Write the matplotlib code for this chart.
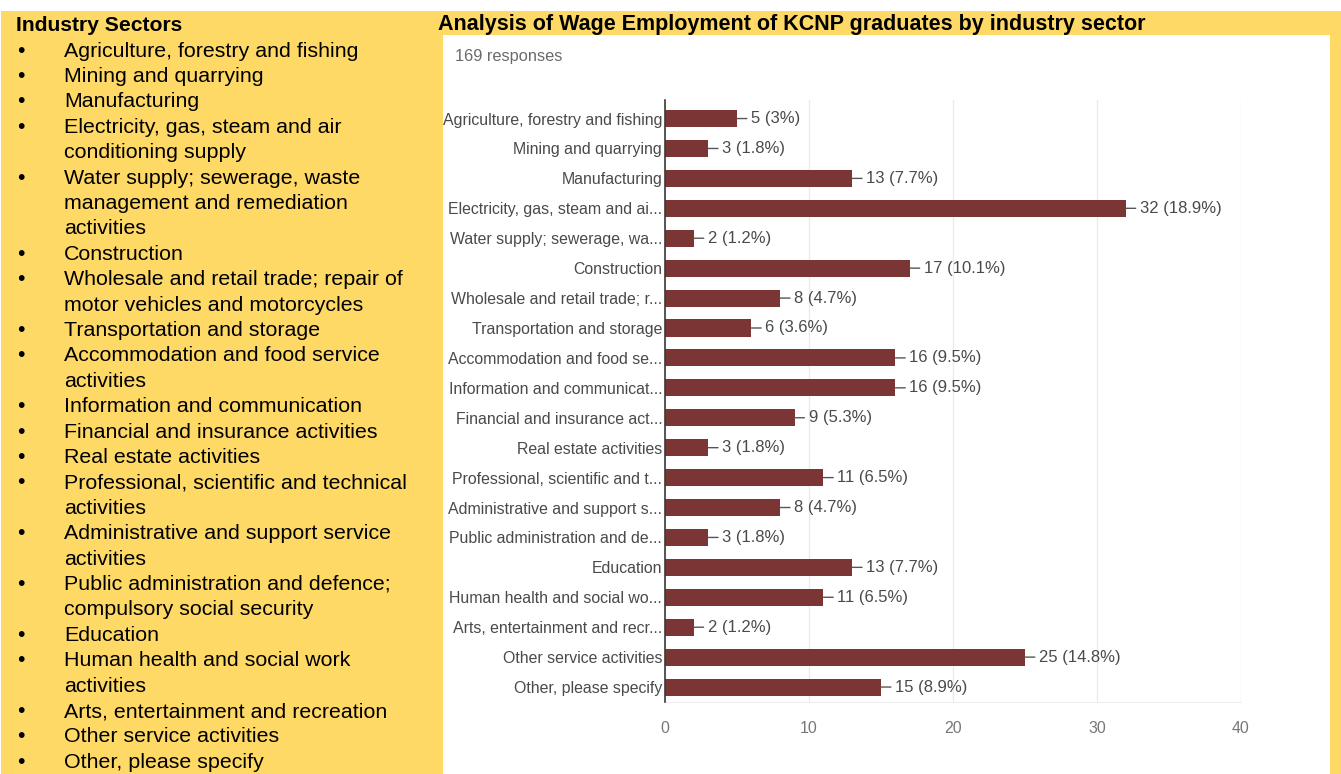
import matplotlib
matplotlib.use("Agg")
import matplotlib.pyplot as plt
from matplotlib.patches import Rectangle

# ---- data -------------------------------------------------------------
sector_list = [
    "Agriculture, forestry and fishing",
    "Mining and quarrying",
    "Manufacturing",
    "Electricity, gas, steam and air\nconditioning supply",
    "Water supply; sewerage, waste\nmanagement and remediation\nactivities",
    "Construction",
    "Wholesale and retail trade; repair of\nmotor vehicles and motorcycles",
    "Transportation and storage",
    "Accommodation and food service\nactivities",
    "Information and communication",
    "Financial and insurance activities",
    "Real estate activities",
    "Professional, scientific and technical\nactivities",
    "Administrative and support service\nactivities",
    "Public administration and defence;\ncompulsory social security",
    "Education",
    "Human health and social work\nactivities",
    "Arts, entertainment and recreation",
    "Other service activities",
    "Other, please specify",
]

bar_labels = [
    "Agriculture, forestry and fishing",
    "Mining and quarrying",
    "Manufacturing",
    "Electricity, gas, steam and ai...",
    "Water supply; sewerage, wa...",
    "Construction",
    "Wholesale and retail trade; r...",
    "Transportation and storage",
    "Accommodation and food se...",
    "Information and communicat...",
    "Financial and insurance act...",
    "Real estate activities",
    "Professional, scientific and t...",
    "Administrative and support s...",
    "Public administration and de...",
    "Education",
    "Human health and social wo...",
    "Arts, entertainment and recr...",
    "Other service activities",
    "Other, please specify",
]

counts = [5, 3, 13, 32, 2, 17, 8, 6, 16, 16, 9, 3, 11, 8, 3, 13, 11, 2, 25, 15]
percents = [3, 1.8, 7.7, 18.9, 1.2, 10.1, 4.7, 3.6, 9.5, 9.5,
            5.3, 1.8, 6.5, 4.7, 1.8, 7.7, 6.5, 1.2, 14.8, 8.9]
x_ticks = [0, 10, 20, 30, 40]
n_responses = 169

panel_title = "Industry Sectors"
chart_title = "Analysis of Wage Employment of KCNP graduates by industry sector"

# ---- styling ----------------------------------------------------------
W, H = 1341, 774
YELLOW = "#FFD966"
BAR = "#7b3535"
SANS = ["Liberation Sans", "DejaVu Sans"]
CHART_FS = 11.4

fig = plt.figure(figsize=(W / 100, H / 100), dpi=100)
fig.patch.set_facecolor("white")


def fx(px):
    return px / W


def fy(py):
    return 1 - py / H


# background cells
fig.add_artist(Rectangle((fx(1), 0), fx(W - 1), fy(11), transform=fig.transFigure,
                         facecolor=YELLOW, edgecolor="none", zorder=0))
fig.add_artist(Rectangle((fx(443), 0), fx(1330 - 443), fy(35), transform=fig.transFigure,
                         facecolor="white", edgecolor="none", zorder=0))

# left panel: list of sectors
fig.text(fx(16), fy(31), panel_title, family=SANS, weight="bold", fontsize=15.2,
         va="baseline", ha="left")
line_h = 25.4
first_baseline = 56.6
line = 0
for item in sector_list:
    parts = item.split("\n")
    fig.text(fx(21), fy(first_baseline + line * line_h), "\u2022", family=SANS,
             fontsize=15.3, va="baseline", ha="center")
    for p in parts:
        fig.text(fx(64), fy(first_baseline + line * line_h), p, family=SANS,
                 fontsize=15.4, va="baseline", ha="left")
        line += 1

# chart heading
fig.text(fx(438), fy(30), chart_title, family=SANS, weight="bold", fontsize=15.5,
         va="baseline", ha="left")
fig.text(fx(455), fy(57), f"{n_responses} responses", family=SANS, fontsize=11.8,
         color="#6a6a6a", va="center", ha="left")

# bar chart
ax = fig.add_axes([fx(665), fy(702), fx(1241 - 665), (702 - 100) / H])
ax.set_facecolor("none")
ypos = list(range(len(counts)))
ax.barh(ypos, counts, height=0.57, color=BAR, zorder=3)
ax.set_xlim(0, 40)
ax.set_ylim(19.5, -0.62)

ax.set_yticks(ypos)
ax.set_yticklabels(bar_labels, family=SANS, fontsize=CHART_FS, color="#4a4a4a")
ax.tick_params(axis="y", length=0, pad=2)
ax.set_xticks(x_ticks)
ax.set_xticklabels([str(t) for t in x_ticks], family=SANS, fontsize=CHART_FS,
                   color="#777777")
ax.tick_params(axis="x", length=0, pad=14)

ax.grid(axis="x", color="#ebebeb", lw=1, zorder=0)
for s in ["top", "right"]:
    ax.spines[s].set_visible(False)
ax.spines["bottom"].set_color("#eeeeee")
ax.spines["left"].set_color("#3a3a3a")
ax.spines["left"].set_linewidth(1.2)
ax.spines["left"].set_zorder(4)

for y, c, p in zip(ypos, counts, percents):
    pct = f"{p:g}"
    ax.annotate(f"{c} ({pct}%)", xy=(c, y), xytext=(14, 0), textcoords="offset pixels",
                ha="left", va="center", family=SANS, fontsize=12, color="#4a4a4a",
                arrowprops=dict(arrowstyle="-", color="#555555", lw=1,
                                shrinkA=1, shrinkB=0))

fig.savefig("out.png", dpi=100)
